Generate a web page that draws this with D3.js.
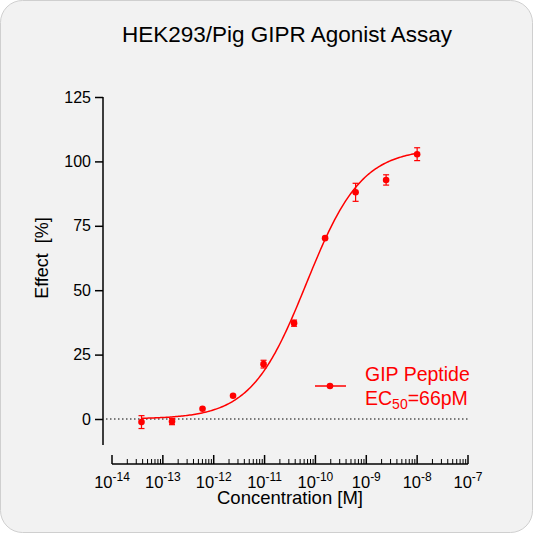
<!DOCTYPE html>
<html><head><meta charset="utf-8">
<script src="https://cdn.jsdelivr.net/npm/d3@7"></script>
<style>body{margin:0;background:#fff}text{font-family:"Liberation Sans",Arial,sans-serif}</style>
</head><body><svg id="c" width="533" height="533"></svg>
<script>
const logConc = [-13.42,-12.82,-12.22,-11.62,-11.02,-10.42,-9.81,-9.21,-8.61,-8.0];
const effect = [-1.2,-1.0,4.0,9.0,21.3,37.2,70.2,88.0,92.8,102.8];
const errs = [2.5,1.2,0.5,0.5,1.5,1.2,0.5,3.5,2.0,2.5];
const yTicks = [0,25,50,75,100,125];
const xDecades = [-14,-13,-12,-11,-10,-9,-8,-7];
const fit = {bottom:0, top:105, logEC50:-10.18, hill:0.8};

const svg = d3.select("#c");
svg.append("rect").attr("x",0.5).attr("y",0.5).attr("width",532).attr("height",532).attr("rx",22)
  .attr("fill","#f2f2f2").attr("stroke","#cfcfcf");
const x = d3.scaleLinear().domain([-14,-7]).range([112,468]);
const y = d3.scaleLinear().domain([0,125]).range([419,97]);
const red = "#ff0000";

svg.append("text").attr("x",287).attr("y",42).attr("text-anchor","middle").attr("font-size",22.5).text("HEK293/Pig GIPR Agonist Assay");

// y axis
const ya = svg.append("g").attr("transform","translate(103,0)").call(d3.axisLeft(y).tickValues(yTicks).tickSize(8).tickPadding(4));
ya.select(".domain").remove();
ya.selectAll("text").attr("font-size",16).attr("fill","#000");
ya.selectAll("line").attr("stroke","#000").attr("stroke-width",1.5);
svg.append("line").attr("x1",103).attr("x2",103).attr("y1",97).attr("y2",445).attr("stroke","#000").attr("stroke-width",1.5);
svg.append("text").attr("transform","translate(48,258) rotate(-90)").attr("text-anchor","middle").attr("font-size",18).attr("xml:space","preserve").text("Effect  [%]");

// x axis
const gx = svg.append("g");
gx.append("line").attr("x1",x(-14)).attr("x2",x(-7)).attr("y1",464).attr("y2",464).attr("stroke","#000").attr("stroke-width",1.5);
xDecades.forEach(d=>{
  gx.append("line").attr("x1",x(d)).attr("x2",x(d)).attr("y1",464).attr("y2",455).attr("stroke","#000").attr("stroke-width",1.5);
  if(d<-7) for(let k=2;k<10;k++){const v=d+Math.log10(k);
    gx.append("line").attr("x1",x(v)).attr("x2",x(v)).attr("y1",464).attr("y2",459).attr("stroke","#000").attr("stroke-width",1);}
  const t=gx.append("text").attr("x",x(d)).attr("y",488).attr("text-anchor","middle").attr("font-size",16.5);
  t.append("tspan").text("10");
  t.append("tspan").attr("dy",-7).attr("font-size",12).text(d);
});
svg.append("text").attr("x",290).attr("y",504).attr("text-anchor","middle").attr("font-size",18.5).text("Concentration [M]");

// zero dotted line
svg.append("line").attr("x1",106).attr("x2",x(-7)).attr("y1",y(0)).attr("y2",y(0)).attr("stroke","#000").attr("stroke-dasharray","1.5,2.5");

// curve
const f = lx => fit.bottom+(fit.top-fit.bottom)/(1+Math.pow(10,(fit.logEC50-lx)*fit.hill));
const pts = d3.range(0,201).map(i=>logConc[0]+(logConc[9]-logConc[0])*i/200);
svg.append("path").attr("d",d3.line().x(d=>x(d)).y(d=>y(f(d)))(pts)).attr("fill","none").attr("stroke",red).attr("stroke-width",1.5);

// points
logConc.forEach((lx,i)=>{
  const cx=x(lx), e=errs[i];
  if(e>0.8){
    svg.append("line").attr("x1",cx).attr("x2",cx).attr("y1",y(effect[i]+e)).attr("y2",y(effect[i]-e)).attr("stroke",red).attr("stroke-width",1.2);
    [e,-e].forEach(s=>svg.append("line").attr("x1",cx-3).attr("x2",cx+3).attr("y1",y(effect[i]+s)).attr("y2",y(effect[i]+s)).attr("stroke",red).attr("stroke-width",1.2));
  }
  svg.append("circle").attr("cx",cx).attr("cy",y(effect[i])).attr("r",3.3).attr("fill",red);
});

// legend
svg.append("line").attr("x1",315).attr("x2",346).attr("y1",386).attr("y2",386).attr("stroke",red).attr("stroke-width",1.5);
svg.append("circle").attr("cx",330).attr("cy",386).attr("r",3.3).attr("fill",red);
svg.append("text").attr("x",365).attr("y",381).attr("font-size",19.5).attr("fill",red).text("GIP Peptide");
const lt=svg.append("text").attr("x",365).attr("y",405).attr("font-size",19.5).attr("fill",red);
lt.append("tspan").text("EC");
lt.append("tspan").attr("dy",4).attr("font-size",14).text("50");
lt.append("tspan").attr("dy",-4).text("=66pM");
</script></body></html>
